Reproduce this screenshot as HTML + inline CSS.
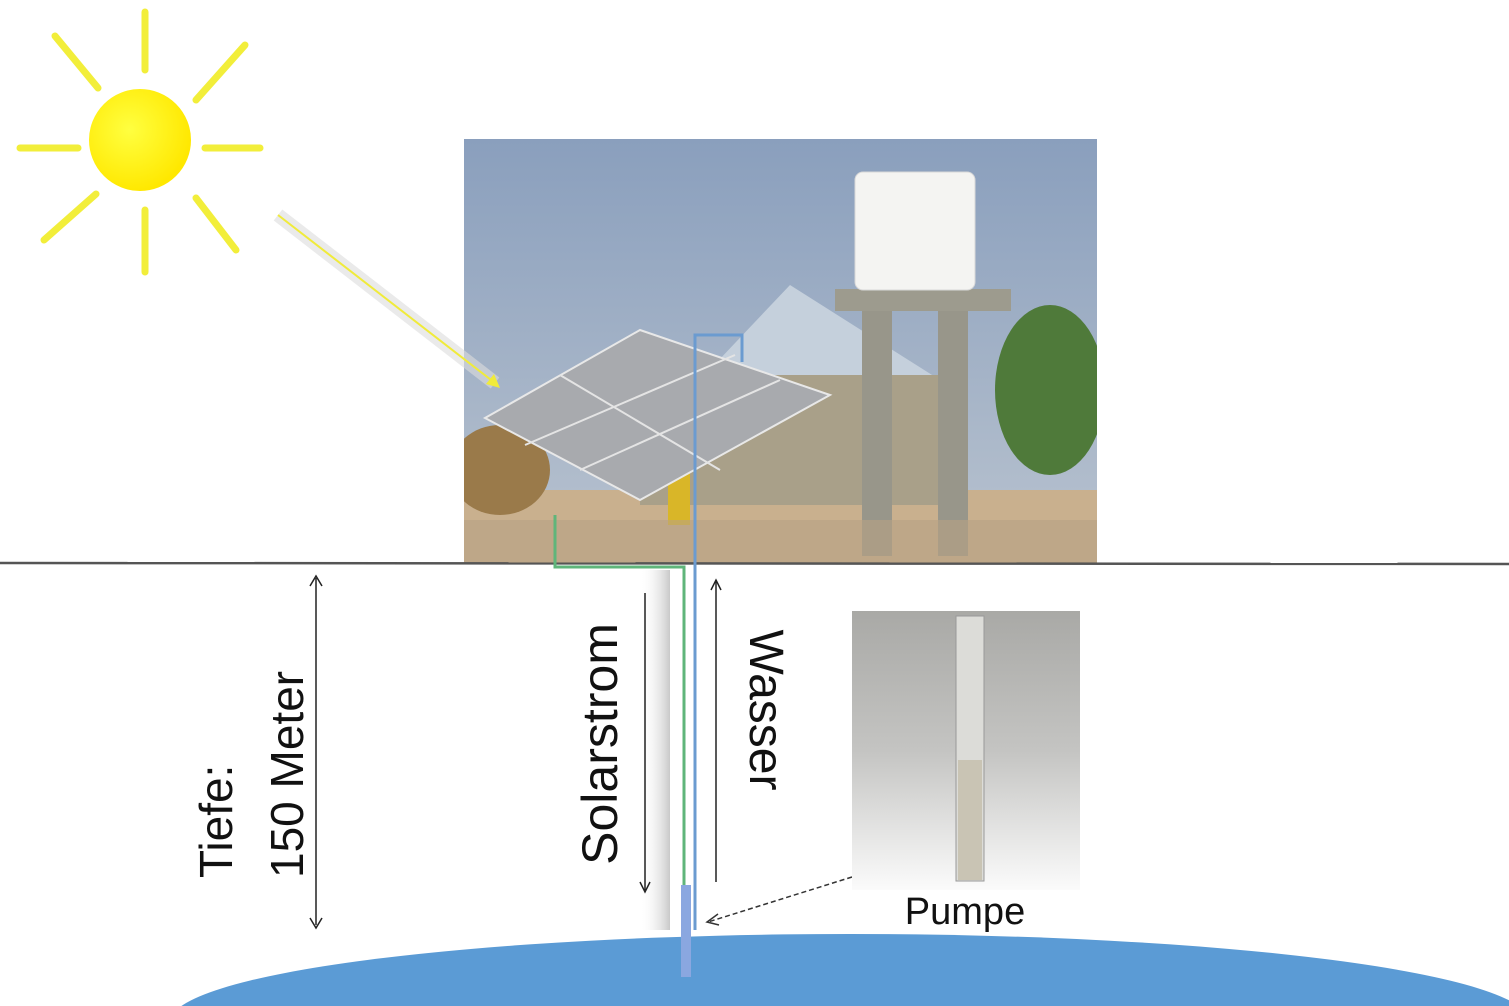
<!DOCTYPE html>
<html><head><meta charset="utf-8"><style>
html,body{margin:0;padding:0;background:#fff;overflow:hidden;width:1509px;height:1006px;}
svg{display:block;font-family:"Liberation Sans",sans-serif;}
</style></head><body>
<svg width="1509" height="1006" viewBox="0 0 1509 1006" xmlns="http://www.w3.org/2000/svg">
<defs>
<linearGradient id="sky" x1="0" y1="0" x2="0" y2="1"><stop offset="0" stop-color="#8a9fbd"/><stop offset="1" stop-color="#b9c3cf"/></linearGradient>
<linearGradient id="pump" x1="0" y1="0" x2="0" y2="1"><stop offset="0" stop-color="#a9a9a6"/><stop offset="0.5" stop-color="#c4c4c2"/><stop offset="1" stop-color="#fbfbfb"/></linearGradient>
<radialGradient id="sun" cx="0.4" cy="0.4" r="0.6"><stop offset="0" stop-color="#ffff40"/><stop offset="1" stop-color="#ffe800"/></radialGradient>
<linearGradient id="shadow" x1="0" y1="0" x2="1" y2="0"><stop offset="0" stop-color="#fff" stop-opacity="0"/><stop offset="1" stop-color="#bbb"/></linearGradient>
<clipPath id="ph"><rect x="464" y="139" width="633" height="424"/></clipPath>
</defs>
<!-- sun -->
<g stroke="#f2ee3a" stroke-width="7" stroke-linecap="round">
<line x1="145" y1="12" x2="145" y2="70"/><line x1="145" y1="210" x2="145" y2="272"/>
<line x1="20" y1="148" x2="78" y2="148"/><line x1="205" y1="148" x2="260" y2="148"/>
<line x1="55" y1="36" x2="98" y2="88"/><line x1="245" y1="45" x2="196" y2="100"/>
<line x1="44" y1="240" x2="96" y2="194"/><line x1="236" y1="250" x2="196" y2="198"/>
</g>
<circle cx="140" cy="140" r="52" fill="url(#sun)" stroke="#ffffff" stroke-width="2"/>
<!-- photo -->
<g clip-path="url(#ph)">
<rect x="464" y="139" width="633" height="424" fill="url(#sky)"/>
<rect x="464" y="490" width="633" height="73" fill="#c9b08e"/>
<ellipse cx="500" cy="470" rx="50" ry="45" fill="#9a7a4a"/>
<ellipse cx="1050" cy="390" rx="55" ry="85" fill="#4f7a3a"/>
<polygon points="790,285 700,380 940,380" fill="#c5d0dc"/>
<rect x="640" y="375" width="300" height="130" fill="#a9a089"/>
<rect x="668" y="450" width="22" height="75" fill="#d9b628"/>
<rect x="835" y="289" width="176" height="22" fill="#9d9b8e"/>
<rect x="862" y="311" width="30" height="245" fill="#98968a"/>
<rect x="938" y="311" width="30" height="245" fill="#98968a"/>
<rect x="855" y="172" width="120" height="118" rx="8" fill="#f4f4f2" stroke="#d8d8d8"/>
<polygon points="485,418 640,330 830,395 640,500" fill="#a8aaae" stroke="#e8e8e8" stroke-width="2"/>
<line x1="525" y1="445" x2="735" y2="355" stroke="#e4e4e4" stroke-width="2"/>
<line x1="580" y1="470" x2="780" y2="380" stroke="#e4e4e4" stroke-width="2"/>
<line x1="560" y1="375" x2="720" y2="470" stroke="#e4e4e4" stroke-width="2"/>
<rect x="464" y="520" width="633" height="43" fill="#b8a283" opacity="0.6"/>
</g>
<!-- light arrow -->
<line x1="278" y1="215" x2="495" y2="383" stroke="#ddd" stroke-width="14" opacity="0.6"/>
<line x1="278" y1="215" x2="495" y2="383" stroke="#f0eb3a" stroke-width="2"/>
<polygon points="500,388 486,384 494,374" fill="#f0eb3a"/>
<!-- ground line -->
<line x1="0" y1="563" x2="1509" y2="564" stroke="#555" stroke-width="2.5"/>
<!-- shadow strip -->
<rect x="640" y="570" width="30" height="360" fill="url(#shadow)" opacity="0.8"/>
<!-- water -->
<ellipse cx="850" cy="1022" rx="680" ry="88" fill="#5b9bd5"/>
<!-- pipes -->
<polyline points="555,515 555,567 684,567 684,975" fill="none" stroke="#5fb57a" stroke-width="3"/>
<polyline points="742,362 742,335 695,335 695,930" fill="none" stroke="#6b9bd0" stroke-width="3"/>
<rect x="681" y="885" width="10" height="92" fill="#8aa7e0"/>
<!-- depth arrow -->
<line x1="316" y1="578" x2="316" y2="925" stroke="#222" stroke-width="1.5"/>
<polyline points="310,586 316,576 322,586" fill="none" stroke="#222" stroke-width="1.5"/>
<polyline points="310,918 316,928 322,918" fill="none" stroke="#222" stroke-width="1.5"/>
<!-- flow arrows -->
<line x1="645" y1="593" x2="645" y2="890" stroke="#222" stroke-width="1.5"/>
<polyline points="640,882 645,892 650,882" fill="none" stroke="#222" stroke-width="1.5"/>
<line x1="716" y1="580" x2="716" y2="882" stroke="#222" stroke-width="1.5"/>
<polyline points="711,590 716,580 721,590" fill="none" stroke="#222" stroke-width="1.5"/>
<line x1="852" y1="877" x2="708" y2="922" stroke="#333" stroke-width="1.5" stroke-dasharray="5,3"/>
<polyline points="718,914 707,922 719,925" fill="none" stroke="#333" stroke-width="1.5"/>
<!-- pump image -->
<rect x="852" y="611" width="228" height="279" fill="url(#pump)"/>
<rect x="956" y="616" width="28" height="265" fill="#dcdcd8" stroke="#999" stroke-width="1"/>
<rect x="958" y="760" width="24" height="120" fill="#c9c4b4"/>
<!-- labels -->
<text transform="translate(232,878) rotate(-90)" font-size="46" fill="#111">Tiefe:</text>
<text transform="translate(303,878) rotate(-90)" font-size="46" fill="#111">150 Meter</text>
<text transform="translate(617,744) rotate(-90)" text-anchor="middle" font-size="50" fill="#111">Solarstrom</text>
<text transform="translate(750,710) rotate(90)" text-anchor="middle" font-size="48" fill="#111">Wasser</text>
<text x="965" y="924" text-anchor="middle" font-size="38" fill="#111">Pumpe</text>
</svg>
</body></html>
